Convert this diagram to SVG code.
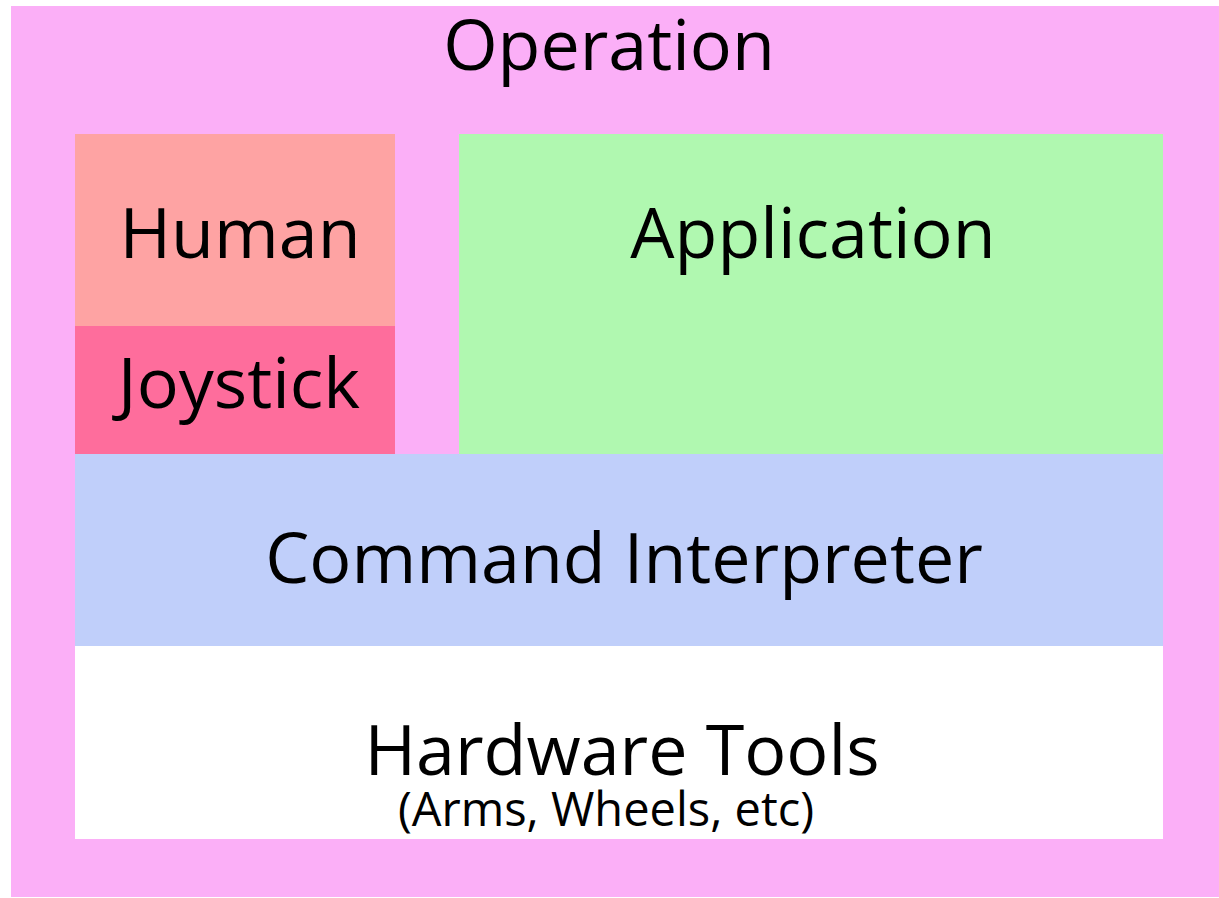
<svg xmlns="http://www.w3.org/2000/svg" width="1219" height="898" viewBox="0 0 1219 898">
  <style>
    .lbl { font-family: "Open Sans", "Noto Sans", "DejaVu Sans", sans-serif; fill: #000; text-anchor: middle; }
    .big { font-size: 70px; }
    .small { font-size: 47px; }
  </style>
  <rect x="0" y="0" width="1219" height="898" fill="#ffffff"/>
  <g id="operation">
    <rect x="11" y="6" width="1208" height="891" fill="#fbaff7"/>
    <text class="lbl big" x="609" y="70">Operation</text>
  </g>
  <g id="human">
    <rect x="75" y="134" width="320" height="192" fill="#fea3a3"/>
    <text class="lbl big" x="240" y="258">Human</text>
  </g>
  <g id="joystick">
    <rect x="75" y="326" width="320" height="128" fill="#fe6d9c"/>
    <text class="lbl big" x="239" y="408">Joystick</text>
  </g>
  <g id="application">
    <rect x="459" y="134" width="704" height="320" fill="#b0f8b0"/>
    <text class="lbl big" x="813" y="258">Application</text>
  </g>
  <g id="command-interpreter">
    <rect x="75" y="454" width="1088" height="192" fill="#c0cffa"/>
    <text class="lbl big" x="624" y="583">Command Interpreter</text>
  </g>
  <g id="hardware-tools">
    <rect x="75" y="646" width="1088" height="193" fill="#ffffff"/>
    <text class="lbl big" x="622" y="775">Hardware Tools</text>
    <text class="lbl small" x="606" y="826">(Arms, Wheels, etc)</text>
  </g>
  <g id="connectors"/>
</svg>
